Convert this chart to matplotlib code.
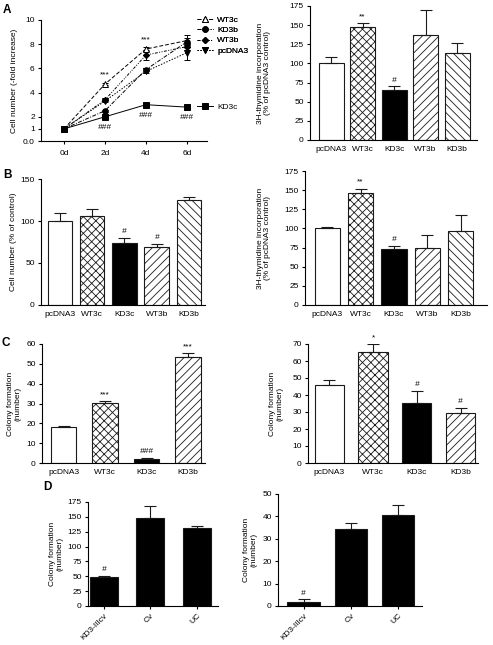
import matplotlib
matplotlib.use("Agg")
import matplotlib.pyplot as plt
from matplotlib.lines import Line2D
import numpy as np

plt.rcParams['font.family'] = ['Liberation Sans', 'DejaVu Sans']
plt.rcParams['font.size'] = 6
plt.rcParams['hatch.linewidth'] = 0.6
plt.rcParams['axes.linewidth'] = 0.8

# ---------------- data ----------------
# Panel A left: growth curves
days = ['0d', '2d', '4d', '6d']
growth_labels = ['WT3c', 'KD3b', 'WT3b', 'pcDNA3', 'KD3c']
growth_WT3c = [1.0, 4.7, 7.6, 8.3]
growth_KD3b = [1.0, 2.5, 5.9, 8.2]
growth_WT3b = [1.0, 3.4, 7.1, 7.8]
growth_pcDNA3 = [1.0, 3.3, 5.75, 7.3]
growth_KD3c = [1.0, 2.0, 3.0, 2.8]
growth_err_WT3c = [0.05, 0.1, 0.15, 0.45]
growth_err_KD3b = [0.05, 0.1, 0.15, 0.3]
growth_err_WT3b = [0.05, 0.1, 0.4, 0.3]
growth_err_pcDNA3 = [0.05, 0.1, 0.15, 0.6]
growth_err_KD3c = [0.05, 0.1, 0.1, 0.1]
growth_star_text = ['', '***', '***', '']
growth_hash_text = ['', '###', '###', '###']

# Panel A right: 3H-thymidine incorporation
cats5 = ['pcDNA3', 'WT3c', 'KD3c', 'WT3b', 'KD3b']
thyA = [100, 147, 65, 137, 113]
thyA_err = [8, 6, 5, 33, 14]
thyA_sig = ['', '**', '#', '', '']

# Panel B left: cell number
cellB = [100, 106, 74, 69, 125]
cellB_err = [9, 8, 6, 4, 3]
cellB_sig = ['', '', '#', '#', '']

# Panel B right: 3H-thymidine incorporation
thyB = [100, 146, 73, 75, 96]
thyB_err = [2, 6, 4, 17, 21]
thyB_sig = ['', '**', '#', '', '']

# Panel C left: colony formation
cats4a = ['pcDNA3', 'WT3c', 'KD3c', 'KD3b']
colC1 = [18, 30.5, 2.2, 53.5]
colC1_err = [0.6, 0.9, 0.4, 1.8]
colC1_sig = ['', '***', '###', '***']

# Panel C right: colony formation
colC2 = [46, 65.5, 35.5, 29.5]
colC2_err = [3, 4.5, 7, 3]
colC2_sig = ['', '*', '#', '#']

# Panel D
cats3 = ['KD3-IIIcv', 'Cv', 'UC']
colD1 = [49, 148, 132]
colD1_err = [1.5, 21, 3]
colD1_sig = ['#', '', '']
colD2 = [2.0, 34.5, 40.5]
colD2_err = [1.0, 2.5, 4.5]
colD2_sig = ['#', '', '']

# ---------------- figure ----------------
W, H = 493, 645
fig = plt.figure(figsize=(W / 100, H / 100), dpi=100)


def ax_at(l, t, r, b):
    ax = fig.add_axes([l / W, 1 - b / H, (r - l) / W, (b - t) / H])
    for s in ['top', 'right']:
        ax.spines[s].set_visible(False)
    ax.tick_params(direction='out', length=2.5, width=0.8, pad=2, labelsize=6)
    return ax


def set_ylabel_px(ax, text, xpx, l, r):
    # xpx is the desired horizontal centre of the (rotated) label block
    nlines = text.count('\n') + 1
    half = nlines * 6 * 1.1 * (100 / 72) / 2
    ax.set_ylabel(text, fontsize=6, linespacing=1.1)
    ax.yaxis.set_label_coords((xpx + half - l) / (r - l), 0.5)


STY = {
    'pcDNA3': dict(color='white', hatch=None),
    'WT3c': dict(color='white', hatch='xxxx'),
    'KD3c': dict(color='black', hatch=None),
    'WT3b': dict(color='white', hatch='////'),
    'KD3b': dict(color='white', hatch='\\\\\\\\'),
    'KD3-IIIcv': dict(color='black', hatch=None),
    'Cv': dict(color='black', hatch=None),
    'UC': dict(color='black', hatch=None),
}


def bar_panel(ax, cats, vals, errs, sig, width, override=None):
    x = np.arange(len(cats))
    for i, c in enumerate(cats):
        st = dict(STY[c])
        if override and c in override:
            st.update(override[c])
        ax.bar(x[i], vals[i], width=width, color=st['color'], hatch=st['hatch'],
               edgecolor='#1a1a1a', linewidth=0.8, zorder=2)
    ax.errorbar(x, vals, yerr=[np.zeros(len(vals)), errs], fmt='none',
                ecolor='#1a1a1a', elinewidth=0.8, capsize=4, capthick=0.8, zorder=3)
    for i, s in enumerate(sig):
        if s:
            ax.annotate(s, (x[i], vals[i] + errs[i]), xytext=(0, 2),
                        textcoords='offset points', ha='center', va='bottom',
                        fontsize=6, fontstyle='italic' if '#' in s else 'normal')
    ax.set_xticks(x)
    ax.set_xticklabels(cats)
    ax.tick_params(axis='x', length=0, pad=4)


# ----- Panel A left -----
l, t, r, b = 41, 20, 207, 141
axA = ax_at(l, t, r, b)
xi = np.arange(len(days))
series = [
    ('WT3c', growth_WT3c, growth_err_WT3c, (0, (4, 2)), '^', 'white'),
    ('KD3b', growth_KD3b, growth_err_KD3b, (0, (4, 1.5, 1, 1.5)), 'o', 'black'),
    ('WT3b', growth_WT3b, growth_err_WT3b, (0, (3, 1.5, 1, 1.5, 1, 1.5)), 'D', 'black'),
    ('pcDNA3', growth_pcDNA3, growth_err_pcDNA3, (0, (1.5, 1.5)), 'v', 'black'),
    ('KD3c', growth_KD3c, growth_err_KD3c, '-', 's', 'black'),
]
handles = {}
for name, vals, err, ls, mk, mfc in series:
    ms = 3.2 if mk == 'D' else 4
    axA.errorbar(xi, vals, yerr=err, color='black', linestyle=ls, linewidth=0.7,
                 marker=mk, markersize=ms, markerfacecolor=mfc, markeredgecolor='black',
                 markeredgewidth=0.7, ecolor='black', elinewidth=0.7, capsize=2.5,
                 capthick=0.7, zorder=3, clip_on=False)
    handles[name] = Line2D([], [], color='black', linestyle=ls, linewidth=0.7, marker=mk,
                           markersize=ms, markerfacecolor=mfc, markeredgecolor='black',
                           markeredgewidth=0.7)
for i, s in enumerate(growth_star_text):
    if s:
        top = max(v[i] for v in [growth_WT3c, growth_KD3b, growth_WT3b, growth_pcDNA3])
        axA.annotate(s, (xi[i], top), xytext=(0, 4), textcoords='offset points',
                     ha='center', va='bottom', fontsize=6)
for i, s in enumerate(growth_hash_text):
    if s:
        axA.annotate(s, (xi[i], growth_KD3c[i]), xytext=(0, -5), textcoords='offset points',
                     ha='center', va='top', fontsize=6, fontstyle='italic')
axA.set_xlim(-0.56, 3.49)
axA.set_ylim(0, 10)
axA.set_xticks(xi)
axA.set_xticklabels(days)
axA.set_yticks([0, 1, 2, 4, 6, 8, 10])
axA.set_yticklabels(['0.0', '1', '2', '4', '6', '8', '10'])
axA.tick_params(axis='x', pad=4)
set_ylabel_px(axA, 'Cell number (-fold increase)', 13, l, r)
leg1 = fig.legend([handles[n] for n in ['WT3c', 'KD3b', 'WT3b', 'pcDNA3']],
                  ['WT3c', 'KD3b', 'WT3b', 'pcDNA3'], loc='upper left',
                  bbox_to_anchor=(197 / W, 1 - 16 / H), frameon=False, fontsize=6,
                  handlelength=1.9, handletextpad=0.5, labelspacing=0.3, borderpad=0,
                  borderaxespad=0)
fig.add_artist(leg1)
fig.legend([handles['KD3c']], ['KD3c'], loc='upper left',
           bbox_to_anchor=(197 / W, 1 - 103 / H), frameon=False, fontsize=6,
           handlelength=1.9, handletextpad=0.5, borderpad=0, borderaxespad=0)

# ----- Panel A right -----
l, t, r, b = 310, 6, 477, 140
ax = ax_at(l, t, r, b)
bar_panel(ax, cats5, thyA, thyA_err, thyA_sig, 0.8)
ax.set_xlim(-0.67, 4.63)
ax.set_ylim(0, 175)
ax.set_yticks(np.arange(0, 176, 25))
set_ylabel_px(ax, '3H-thymidine incorporation\n(% of pcDNA3 control)', 262, l, r)

# ----- Panel B left -----
l, t, r, b = 41, 179, 205, 305
ax = ax_at(l, t, r, b)
bar_panel(ax, cats5, cellB, cellB_err, cellB_sig, 0.76)
ax.set_xlim(-0.59, 4.5)
ax.set_ylim(0, 150)
ax.set_yticks([0, 50, 100, 150])
set_ylabel_px(ax, 'Cell number (% of control)', 12, l, r)

# ----- Panel B right -----
l, t, r, b = 305, 171, 487, 305
ax = ax_at(l, t, r, b)
bar_panel(ax, cats5, thyB, thyB_err, thyB_sig, 0.75)
ax.set_xlim(-0.66, 4.78)
ax.set_ylim(0, 175)
ax.set_yticks(np.arange(0, 176, 25))
set_ylabel_px(ax, '3H-thymidine incorporation\n(% of pcDNA3 control)', 262, l, r)

# ----- Panel C left -----
overC = {'KD3b': dict(hatch='////')}
l, t, r, b = 42, 344, 205, 463
ax = ax_at(l, t, r, b)
bar_panel(ax, cats4a, colC1, colC1_err, colC1_sig, 0.62, override=overC)
ax.set_xlim(-0.52, 3.41)
ax.set_ylim(0, 60)
ax.set_yticks(np.arange(0, 61, 10))
set_ylabel_px(ax, 'Colony formation\n(number)', 12, l, r)

# ----- Panel C right -----
l, t, r, b = 308, 344, 478, 463
ax = ax_at(l, t, r, b)
bar_panel(ax, cats4a, colC2, colC2_err, colC2_sig, 0.67, override=overC)
ax.set_xlim(-0.49, 3.4)
ax.set_ylim(0, 70)
ax.set_yticks(np.arange(0, 71, 10))
set_ylabel_px(ax, 'Colony formation\n(number)', 274, l, r)

# ----- Panel D left -----
l, t, r, b = 88, 502, 218, 606
ax = ax_at(l, t, r, b)
bar_panel(ax, cats3, colD1, colD1_err, colD1_sig, 0.6)
ax.set_xlim(-0.34, 2.45)
ax.set_ylim(0, 175)
ax.set_yticks(np.arange(0, 176, 25))
ax.tick_params(axis='x', length=2.5, pad=2)
plt.setp(ax.get_xticklabels(), rotation=45, ha='right', rotation_mode='anchor')
set_ylabel_px(ax, 'Colony formation\n(number)', 54, l, r)

# ----- Panel D right -----
l, t, r, b = 278, 494, 422, 606
ax = ax_at(l, t, r, b)
bar_panel(ax, cats3, colD2, colD2_err, colD2_sig, 0.68)
ax.set_xlim(-0.54, 2.5)
ax.set_ylim(0, 50)
ax.set_yticks(np.arange(0, 51, 10))
ax.tick_params(axis='x', length=2.5, pad=2)
plt.setp(ax.get_xticklabels(), rotation=45, ha='right', rotation_mode='anchor')
set_ylabel_px(ax, 'Colony formation\n(number)', 248, l, r)

# ----- panel letters -----
for letter, xp, yp in [('A', 7, 10), ('B', 7, 175), ('C', 6, 343), ('D', 47, 487)]:
    fig.text(xp / W, 1 - yp / H, letter, fontsize=8.5, fontweight='bold',
             ha='center', va='center')

fig.savefig('out.png', dpi=100)
